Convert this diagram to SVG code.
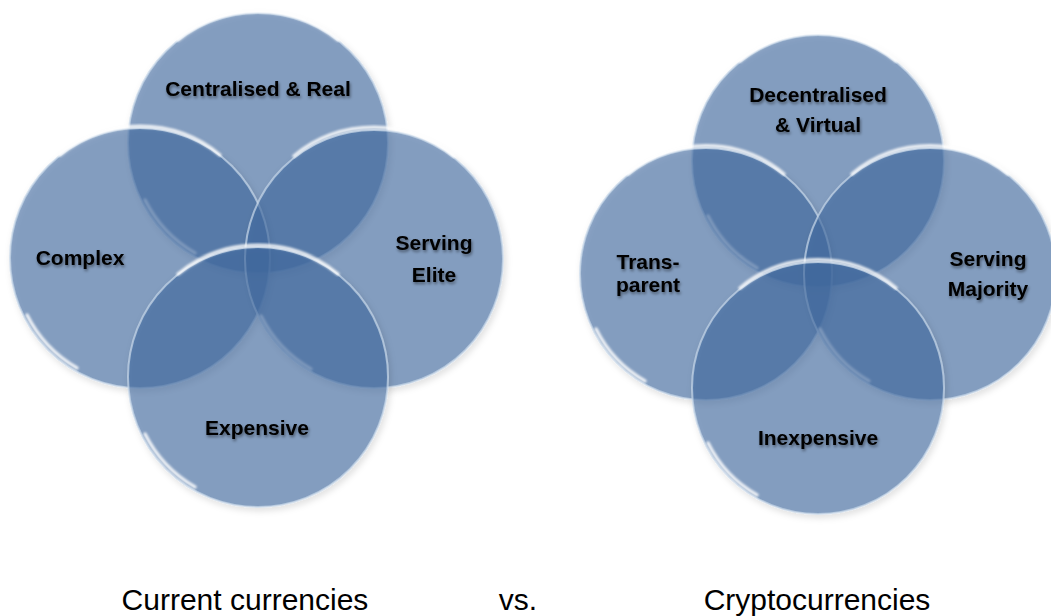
<svg xmlns="http://www.w3.org/2000/svg" width="1051" height="616" viewBox="0 0 1051 616">
<defs>
<filter id="ts" x="-20%" y="-40%" width="140%" height="180%">
<feDropShadow dx="1" dy="2" stdDeviation="1.5" flood-color="#000" flood-opacity="0.45"/>
</filter>
<filter id="glow" x="-10%" y="-10%" width="120%" height="120%">
<feGaussianBlur stdDeviation="1.2"/>
</filter>
<filter id="sh" x="-10%" y="-10%" width="125%" height="125%">
<feDropShadow dx="2" dy="3" stdDeviation="3" flood-color="#000" flood-opacity="0.18"/>
</filter>
</defs>
<style>
.c{fill:#416ba0;fill-opacity:0.6;stroke:#c9d8ea;stroke-opacity:0.7;stroke-width:2}
.hl{fill:none;stroke:#ffffff;stroke-opacity:0.85;stroke-width:3.5;stroke-linecap:round;filter:url(#glow)}
.t{font-family:"Liberation Sans",Arial,sans-serif;font-weight:bold;font-size:21px;fill:#000;text-anchor:middle;filter:url(#ts)}
.cap{font-family:"Liberation Sans",Arial,sans-serif;font-size:30px;fill:#000;text-anchor:middle}
</style>
<g id="current">
<g id="n-centralised">
<circle class="c" cx="258" cy="143" r="130" filter="url(#sh)"/>
<path class="hl" d="M 178 40 A 126 126 0 0 1 338 40"/>
<path class="hl" d="M 145 200 A 126 126 0 0 0 195 253"/>
<text class="t" x="258" y="96">Centralised &amp; Real</text>
</g>
<g id="n-complex">
<circle class="c" cx="140" cy="258" r="130" filter="url(#sh)"/>
<path class="hl" d="M 60 155 A 126 126 0 0 1 220 155"/>
<path class="hl" d="M 27 315 A 126 126 0 0 0 77 368"/>
<text class="t" x="80" y="265">Complex</text>
</g>
<g id="n-serving-elite">
<circle class="c" cx="374" cy="259" r="129" filter="url(#sh)"/>
<path class="hl" d="M 294 156 A 126 126 0 0 1 454 156"/>
<path class="hl" d="M 261 316 A 126 126 0 0 0 311 369"/>
<text class="t" x="434" y="250">Serving</text>
<text class="t" x="434" y="282">Elite</text>
</g>
<g id="n-expensive">
<circle class="c" cx="258" cy="377" r="130" filter="url(#sh)"/>
<path class="hl" d="M 178 274 A 126 126 0 0 1 338 274"/>
<path class="hl" d="M 145 434 A 126 126 0 0 0 195 487"/>
<text class="t" x="257" y="435">Expensive</text>
</g>
</g>
<g id="crypto">
<g id="n-decentralised">
<circle class="c" cx="818" cy="161" r="126" filter="url(#sh)"/>
<path class="hl" d="M 740 61 A 122 122 0 0 1 896 61"/>
<path class="hl" d="M 708 216 A 122 122 0 0 0 757 268"/>
<text class="t" x="818" y="102">Decentralised</text>
<text class="t" x="818" y="132">&amp; Virtual</text>
</g>
<g id="n-transparent">
<circle class="c" cx="706" cy="274" r="126" filter="url(#sh)"/>
<path class="hl" d="M 628 174 A 122 122 0 0 1 784 174"/>
<path class="hl" d="M 596 329 A 122 122 0 0 0 645 381"/>
<text class="t" x="648" y="269">Trans-</text>
<text class="t" x="648" y="292">parent</text>
</g>
<g id="n-serving-majority">
<circle class="c" cx="930" cy="274" r="126" filter="url(#sh)"/>
<path class="hl" d="M 852 174 A 122 122 0 0 1 1008 174"/>
<path class="hl" d="M 820 329 A 122 122 0 0 0 869 381"/>
<text class="t" x="988" y="266">Serving</text>
<text class="t" x="988" y="296">Majority</text>
</g>
<g id="n-inexpensive">
<circle class="c" cx="818" cy="388" r="126" filter="url(#sh)"/>
<path class="hl" d="M 740 288 A 122 122 0 0 1 896 288"/>
<path class="hl" d="M 708 443 A 122 122 0 0 0 757 495"/>
<text class="t" x="818" y="445">Inexpensive</text>
</g>
</g>
<g id="captions">
<text class="cap" x="245" y="610">Current currencies</text>
<text class="cap" x="518" y="610">vs.</text>
<text class="cap" x="817" y="610">Cryptocurrencies</text>
</g>
<g id="connectors"/>
</svg>
